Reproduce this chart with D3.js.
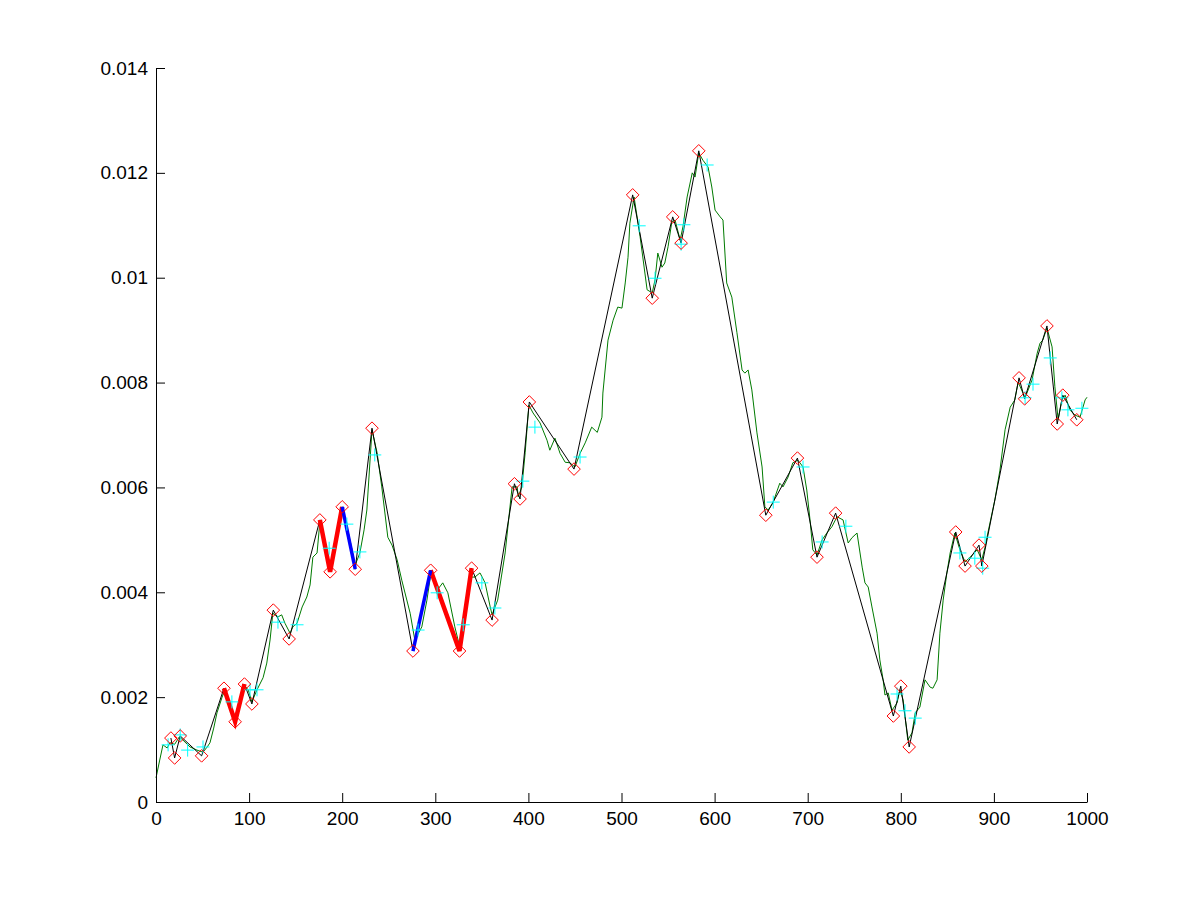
<!DOCTYPE html>
<html>
<head>
<meta charset="utf-8">
<script src="https://cdn.jsdelivr.net/npm/d3@7"></script>
<style>
  html, body { margin: 0; padding: 0; background: #fff; }
  svg { display: block; }
  text { font-family: "Liberation Sans", Arial, Helvetica, sans-serif; }
</style>
</head>
<body>
<svg id="chart" width="1201" height="901"></svg>
<script>
// ---------- DATA ----------
const xTicks = [0, 100, 200, 300, 400, 500, 600, 700, 800, 900, 1000];
const yTicks = [0, 0.002, 0.004, 0.006, 0.008, 0.010, 0.012, 0.014];

// green price series (index, value)
const priceX = [0,4,7.5,12,15,20,25,29,36.5,44,50.5,55,58,62,65.5,71,74,79.5,85,90,94.5,99,103,108.5,115,119,122.5,125.5,131,135,138.5,144,147,151.5,157,162,165.5,168.5,173,176,181.5,187,193,200,206,214,219,223.5,226.5,232,237.5,242.5,249,253.5,259,264,273,278,285.5,291,295.5,302,308,313.5,321,326.5,331,334,337,342.5,348,353.5,359,361,367,375,382.5,388,389,393,396.5,400.5,405,412.5,420,423,428.5,434,439.5,444.5,450,455.5,461,468,474,479,480,485.5,491,496,500.5,504,507,509,513.5,520,527.5,533,536,539,543.5,546.5,550,554,557.5,563,566,570.5,576,579,583,587.5,593,597,600.5,606,609,613,618.5,624,629.5,632.5,636,640,645.5,651,654,657.5,662.5,670,673.5,679,684,689.5,695,699,702.5,705.5,710,715.5,720.5,726,731.5,738,743.5,747.5,753,758.5,761.5,765,769,774.5,777.5,781,783,786.5,790.5,796,799,802.5,807.5,812,815.5,820.5,826,831.5,834.5,839,842,845.5,849.5,853,858,863.5,869,874.5,882,887,890.5,893.5,901,906.5,912,917.5,922.5,926,933.5,941,946.5,949.5,952.5,957,962.5,965.5,969,973,976.5,981.5,987,992.5,998,1000];
const priceY = [0.00046,0.00080,0.00109,0.00103,0.00113,0.00110,0.00124,0.00118,0.00105,0.00099,0.00095,0.00105,0.00113,0.00141,0.00170,0.00200,0.00214,0.00185,0.00156,0.00195,0.00223,0.00214,0.00191,0.00214,0.00237,0.00265,0.00309,0.00360,0.00353,0.00357,0.00341,0.00322,0.00334,0.00341,0.00372,0.00391,0.00414,0.00467,0.00475,0.00534,0.00490,0.00442,0.00500,0.00561,0.00519,0.00452,0.00475,0.00519,0.00557,0.00710,0.00666,0.00601,0.00505,0.00490,0.00462,0.00423,0.00360,0.00309,0.00334,0.00385,0.00439,0.00404,0.00418,0.00399,0.00334,0.00294,0.00347,0.00399,0.00429,0.00429,0.00437,0.00418,0.00372,0.00357,0.00385,0.00475,0.00601,0.00601,0.00582,0.00601,0.00666,0.00757,0.00742,0.00723,0.00690,0.00671,0.00694,0.00665,0.00648,0.00647,0.00639,0.00665,0.00685,0.00715,0.00705,0.00734,0.00780,0.00881,0.00919,0.00944,0.00942,0.00990,0.01039,0.01104,0.01154,0.01078,0.00977,0.00971,0.00996,0.01047,0.01020,0.01028,0.01059,0.01106,0.01110,0.01072,0.01097,0.01154,0.01200,0.01192,0.01238,0.01224,0.01211,0.01173,0.01129,0.01116,0.01110,0.00990,0.00963,0.00895,0.00824,0.00818,0.00824,0.00786,0.00704,0.00639,0.00563,0.00557,0.00570,0.00608,0.00601,0.00620,0.00647,0.00652,0.00639,0.00595,0.00538,0.00481,0.00471,0.00500,0.00513,0.00525,0.00544,0.00538,0.00494,0.00504,0.00513,0.00448,0.00418,0.00410,0.00372,0.00322,0.00271,0.00233,0.00204,0.00208,0.00175,0.00189,0.00214,0.00195,0.00118,0.00132,0.00170,0.00181,0.00233,0.00219,0.00217,0.00233,0.00322,0.00385,0.00437,0.00475,0.00513,0.00481,0.00458,0.00467,0.00481,0.00462,0.00486,0.00513,0.00576,0.00633,0.00710,0.00753,0.00767,0.00801,0.00771,0.00805,0.00856,0.00875,0.00881,0.00904,0.00868,0.00792,0.00729,0.00767,0.00776,0.00748,0.00738,0.00734,0.00767,0.00772];

// zigzag pivots
const pivotX = [16,20,26,49,73,85,95,103,126,143,176,187,200,214,232,276,295,326,339,361,385,391,401,449,512,533,555,564,583,655,689,710,730,792,800,809,859,869,884,887,927,933,957,968,974,989];
const pivotY = [0.00122,0.00084,0.00126,0.00088,0.00217,0.00153,0.00225,0.00187,0.00366,0.00311,0.00538,0.00439,0.00563,0.00444,0.00713,0.00288,0.00442,0.00288,0.00446,0.00347,0.00607,0.00578,0.00763,0.00635,0.01158,0.00961,0.01116,0.01066,0.01242,0.00547,0.00656,0.00467,0.00551,0.00164,0.00221,0.00105,0.00515,0.00450,0.00490,0.00450,0.00809,0.00769,0.00908,0.00721,0.00776,0.00729];

// highlighted legs (pivot index ranges)
const redLegs = [[4, 6], [10, 12], [16, 18]];
const blueLegs = [[12, 13], [15, 16]];

// confirmation marks
const confX = [13,26,34,50.5,81.5,101,108.5,131,151.5,186,205,219,235,281.5,302,330,350,364,394,407,455.5,519,536,564,567,592,663,695,715.5,741,796,804.5,815.5,863.5,879.5,888,890.5,933.5,942,960.5,973,979.5,994.5];
const confY = [0.00109,0.00128,0.00099,0.00105,0.00191,0.00214,0.00214,0.00343,0.00338,0.00484,0.00530,0.00477,0.00662,0.00328,0.00399,0.00338,0.00418,0.00370,0.00612,0.00715,0.00658,0.01099,0.00999,0.01064,0.01101,0.01215,0.00572,0.00639,0.00496,0.00526,0.00206,0.00174,0.00160,0.00475,0.00465,0.00446,0.00505,0.00771,0.00797,0.00847,0.00771,0.00748,0.00751];

// ---------- CHART ----------
const svg = d3.select("#chart");
const x = d3.scaleLinear().domain([0, 1000]).range([156, 1087]);
const y = d3.scaleLinear().domain([0, 0.014]).range([802, 68]);

const line = d3.line().x(d => x(d[0])).y(d => y(d[1]));

const price = priceX.map((v, i) => [v, priceY[i]]);
const pivots = pivotX.map((v, i) => [v, pivotY[i]]);
const conf = confX.map((v, i) => [v, confY[i]]);

svg.append("path").datum(price).attr("d", line)
  .attr("fill", "none").attr("stroke", "#007a00").attr("stroke-width", 1);

svg.append("path").datum(pivots).attr("d", line)
  .attr("fill", "none").attr("stroke", "#000").attr("stroke-width", 1);

redLegs.forEach(([a, b]) => {
  svg.append("path").datum(pivots.slice(a, b + 1)).attr("d", line)
    .attr("fill", "none").attr("stroke", "#ff0000").attr("stroke-width", 4.5)
    .attr("stroke-linejoin", "miter");
});
blueLegs.forEach(([a, b]) => {
  svg.append("path").datum(pivots.slice(a, b + 1)).attr("d", line)
    .attr("fill", "none").attr("stroke", "#0000ff").attr("stroke-width", 3.5);
});

// cyan plus marks
const pg = svg.append("g").attr("stroke", "#00ffff").attr("stroke-width", 1).attr("fill", "none");
pg.selectAll("path").data(conf).join("path")
  .attr("d", d => {
    const cx = x(d[0]), cy = y(d[1]), r = 6.5;
    return `M${cx - r},${cy}H${cx + r}M${cx},${cy - r}V${cy + r}`;
  });

// red diamonds
const dg = svg.append("g").attr("stroke", "#ff0000").attr("stroke-width", 1).attr("fill", "none");
dg.selectAll("path").data(pivots).join("path")
  .attr("d", d => {
    const cx = x(d[0]), cy = y(d[1]), r = 6.3;
    return `M${cx},${cy - r}L${cx + r},${cy}L${cx},${cy + r}L${cx - r},${cy}Z`;
  });

// axes (MATLAB style, inward ticks, no box)
const xAxis = d3.axisBottom(x).tickValues(xTicks).tickSizeInner(-9).tickSizeOuter(0)
  .tickPadding(8).tickFormat(d3.format("d"));
const yAxis = d3.axisLeft(y).tickValues(yTicks).tickSizeInner(-9).tickSizeOuter(0)
  .tickPadding(8).tickFormat(d => d === 0 ? "0" : d3.format("~g")(+d.toFixed(3)));

const gx = svg.append("g").attr("transform", "translate(0,802)").call(xAxis);
const gy = svg.append("g").attr("transform", "translate(156,0)").call(yAxis);
[gx, gy].forEach(g => {
  g.select(".domain").attr("stroke", "#000").attr("stroke-width", 1);
  g.selectAll(".tick line").attr("stroke", "#000");
  g.selectAll(".tick text").attr("fill", "#000").style("font-size", "19px");
});
gx.selectAll(".tick text").attr("dy", "0.8em");
</script>
</body>
</html>
